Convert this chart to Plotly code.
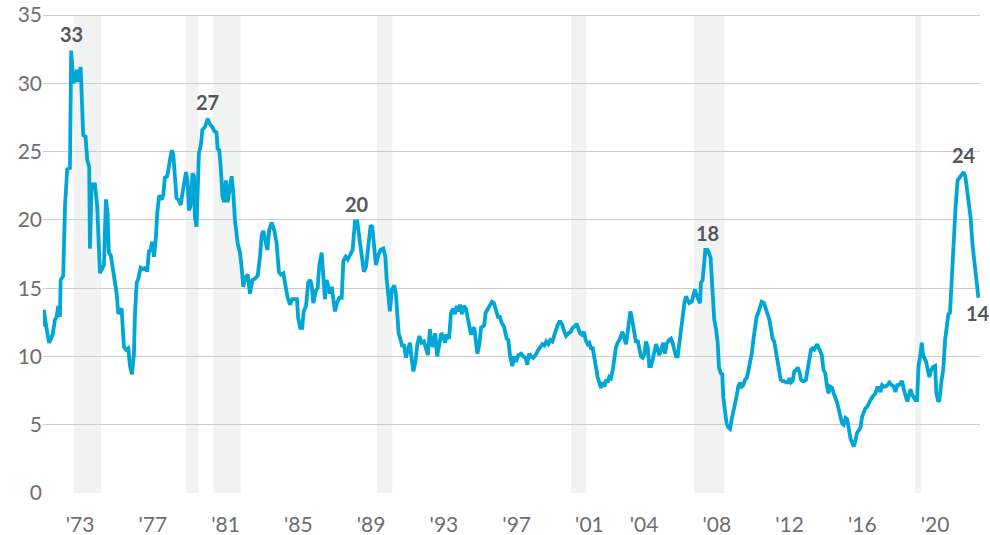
import plotly.graph_objects as go

# ---- data ----
years = [
    1972.11, 1972.18, 1972.33, 1972.47, 1972.66, 1972.79, 1972.88, 1972.97, 1973.06, 1973.10,
    1973.24, 1973.34, 1973.46, 1973.61, 1973.68, 1973.79, 1973.92, 1973.98, 1974.07, 1974.20,
    1974.34, 1974.47, 1974.56, 1974.67, 1974.71, 1974.80, 1974.98, 1975.11, 1975.26, 1975.39,
    1975.48, 1975.59, 1975.68, 1975.75, 1975.86, 1976.03, 1976.18, 1976.27, 1976.36, 1976.45,
    1976.58, 1976.69, 1976.82, 1976.91, 1977.02, 1977.13, 1977.18, 1977.28, 1977.37, 1977.50,
    1977.64, 1977.79, 1977.86, 1977.95, 1978.05, 1978.12, 1978.23, 1978.34, 1978.41, 1978.52,
    1978.65, 1978.74, 1978.83, 1978.96, 1979.07, 1979.20, 1979.29, 1979.38, 1979.47, 1979.57,
    1979.70, 1979.84, 1979.99, 1980.08, 1980.15, 1980.24, 1980.35, 1980.43, 1980.48, 1980.57,
    1980.70, 1980.81, 1980.89, 1981.03, 1981.18, 1981.31, 1981.44, 1981.55, 1981.67, 1981.73,
    1981.82, 1981.91, 1981.99, 1982.08, 1982.19, 1982.28, 1982.37, 1982.50, 1982.59, 1982.68,
    1982.83, 1982.96, 1983.05, 1983.14, 1983.23, 1983.38, 1983.51, 1983.64, 1983.78, 1983.93,
    1984.06, 1984.15, 1984.24, 1984.33, 1984.46, 1984.57, 1984.70, 1984.85, 1984.97, 1985.10,
    1985.21, 1985.34, 1985.47, 1985.58, 1985.71, 1985.83, 1985.98, 1986.09, 1986.16, 1986.27,
    1986.38, 1986.46, 1986.59, 1986.71, 1986.82, 1986.90, 1986.99, 1987.12, 1987.23, 1987.32,
    1987.45, 1987.54, 1987.63, 1987.72, 1987.81, 1987.90, 1988.00, 1988.09, 1988.18, 1988.31,
    1988.42, 1988.55, 1988.64, 1988.77, 1988.88, 1989.00, 1989.15, 1989.28, 1989.41, 1989.52,
    1989.65, 1989.77, 1989.89, 1990.01, 1990.14, 1990.23, 1990.32, 1990.43, 1990.56, 1990.69,
    1990.84, 1990.95, 1991.02, 1991.11, 1991.20, 1991.31, 1991.44, 1991.53, 1991.61, 1991.68,
    1991.79, 1991.88, 1991.97, 1992.08, 1992.19, 1992.30, 1992.40, 1992.49, 1992.60, 1992.71,
    1992.82, 1992.94, 1993.07, 1993.18, 1993.29, 1993.40, 1993.49, 1993.58, 1993.69, 1993.80,
    1993.91, 1994.02, 1994.13, 1994.23, 1994.32, 1994.45, 1994.56, 1994.68, 1994.78, 1994.87,
    1994.98, 1995.05, 1995.16, 1995.27, 1995.38, 1995.46, 1995.57, 1995.66, 1995.75, 1995.84,
    1995.93, 1996.01, 1996.12, 1996.21, 1996.30, 1996.39, 1996.46, 1996.57, 1996.70, 1996.81,
    1996.92, 1997.03, 1997.14, 1997.25, 1997.36, 1997.47, 1997.62, 1997.71, 1997.80, 1997.93,
    1998.04, 1998.13, 1998.26, 1998.41, 1998.53, 1998.66, 1998.75, 1998.85, 1998.96, 1999.08,
    1999.21, 1999.32, 1999.45, 1999.58, 1999.69, 1999.80, 1999.91, 2000.02, 2000.13, 2000.24,
    2000.33, 2000.42, 2000.55, 2000.68, 2000.79, 2000.88, 2001.01, 2001.14, 2001.25, 2001.37,
    2001.47, 2001.56, 2001.65, 2001.74, 2001.87, 2001.96, 2002.07, 2002.16, 2002.25, 2002.35,
    2002.44, 2002.53, 2002.62, 2002.71, 2002.80, 2002.90, 2002.99, 2003.08, 2003.17, 2003.26,
    2003.35, 2003.45, 2003.54, 2003.63, 2003.72, 2003.85, 2003.98, 2004.09, 2004.18, 2004.27,
    2004.34, 2004.42, 2004.49, 2004.56, 2004.64, 2004.73, 2004.82, 2004.91, 2005.00, 2005.10,
    2005.19, 2005.28, 2005.37, 2005.46, 2005.55, 2005.65, 2005.74, 2005.83, 2005.92, 2006.01,
    2006.23, 2006.32, 2006.41, 2006.54, 2006.65, 2006.74, 2006.83, 2006.93, 2007.02, 2007.11,
    2007.20, 2007.29, 2007.39, 2007.48, 2007.57, 2007.66, 2007.79, 2007.88, 2007.97, 2008.06,
    2008.16, 2008.25, 2008.30, 2008.39, 2008.47, 2008.54, 2008.65, 2008.74, 2008.83, 2008.89,
    2008.94, 2009.03, 2009.13, 2009.22, 2009.29, 2009.38, 2009.47, 2009.53, 2009.62, 2009.71,
    2009.80, 2009.90, 2009.99, 2010.08, 2010.17, 2010.26, 2010.35, 2010.45, 2010.54, 2010.63,
    2010.72, 2010.81, 2010.90, 2011.00, 2011.09, 2011.18, 2011.27, 2011.36, 2011.45, 2011.55,
    2011.64, 2011.77, 2011.88, 2011.97, 2012.06, 2012.15, 2012.24, 2012.33, 2012.43, 2012.52,
    2012.61, 2012.68, 2012.79, 2012.88, 2012.98, 2013.07, 2013.16, 2013.25, 2013.34, 2013.43,
    2013.53, 2013.62, 2013.71, 2013.80, 2013.89, 2013.98, 2014.07, 2014.17, 2014.26, 2014.35,
    2014.44, 2014.53, 2014.69, 2014.82, 2014.94, 2015.04, 2015.13, 2015.22, 2015.31, 2015.40,
    2015.51, 2015.60, 2015.70, 2015.79, 2015.88, 2015.97, 2016.06, 2016.15, 2016.25, 2016.34,
    2016.43, 2016.52, 2016.61, 2016.70, 2016.79, 2016.88, 2016.98, 2017.07, 2017.16, 2017.25,
    2017.34, 2017.43, 2017.53, 2017.62, 2017.71, 2017.80, 2017.89, 2017.99, 2018.08, 2018.17,
    2018.26, 2018.35, 2018.45, 2018.54, 2018.66, 2018.79, 2018.90, 2018.99, 2019.09, 2019.18,
    2019.27, 2019.36, 2019.45, 2019.54, 2019.64, 2019.73, 2019.82, 2019.91, 2020.00, 2020.09,
    2020.18, 2020.26, 2020.37, 2020.44, 2020.51, 2020.59, 2020.68, 2020.77, 2020.86, 2020.95,
    2021.04, 2021.17, 2021.24, 2021.35, 2021.41, 2021.53, 2021.62, 2021.72, 2021.81, 2021.90,
    2021.99, 2022.08, 2022.14, 2022.21, 2022.30, 2022.41, 2022.54, 2022.63, 2022.74, 2022.83,
    2022.93, 2023.04, 2023.13, 2023.22, 2023.31, 2023.40, 2023.49, 2023.55,
]
values = [
    12.2, 13.4, 12.0, 11.0, 11.6, 12.7, 12.9, 13.7, 12.9, 15.6,
    15.9, 21.0, 23.7, 23.8, 32.4, 30.1, 30.2, 31.0, 30.1, 31.2,
    26.2, 26.1, 24.4, 23.9, 17.9, 22.6, 22.6, 21.0, 16.1, 16.5,
    16.7, 21.5, 20.5, 17.6, 17.4, 15.9, 14.6, 13.1, 13.4, 13.5,
    10.7, 10.5, 10.6, 9.3, 8.7, 10.2, 12.9, 15.4, 15.7, 16.5,
    16.4, 16.5, 16.2, 17.7, 17.8, 18.4, 17.3, 18.8, 20.5, 21.8,
    21.5, 21.8, 23.1, 23.2, 24.2, 25.1, 24.8, 23.4, 21.6, 21.5,
    21.1, 22.3, 23.5, 22.8, 20.7, 21.0, 23.4, 23.2, 20.2, 19.5,
    24.9, 25.5, 26.6, 26.8, 27.4, 27.0, 26.8, 26.5, 26.4, 25.2,
    25.1, 23.7, 21.8, 21.3, 22.9, 21.3, 22.2, 23.2, 22.0, 20.0,
    18.3, 17.6, 16.5, 15.1, 15.7, 16.0, 14.6, 15.6, 15.7, 15.9,
    17.3, 18.9, 19.2, 18.5, 17.8, 19.3, 19.8, 19.2, 18.3, 16.2,
    16.0, 16.1, 15.1, 14.3, 13.8, 14.2, 14.2, 14.2, 12.8, 12.1,
    12.1, 13.3, 13.7, 15.4, 15.6, 15.2, 13.9, 14.8, 15.0, 16.7,
    17.6, 15.9, 14.2, 15.6, 15.2, 14.6, 15.1, 14.4, 13.3, 14.0,
    14.3, 14.3, 17.0, 17.3, 17.1, 17.4, 17.8, 19.9, 19.9, 18.7,
    17.3, 16.2, 16.6, 18.1, 19.6, 19.5, 18.1, 16.7, 17.4, 17.8,
    17.9, 17.3, 15.7, 14.5, 13.3, 14.9, 15.2, 14.6, 12.7, 11.7,
    11.2, 10.7, 10.9, 9.9, 10.5, 11.0, 9.8, 8.9, 9.6, 10.9,
    11.5, 11.0, 11.1, 10.7, 10.1, 12.0, 11.0, 10.7, 11.7, 10.0,
    10.9, 11.7, 11.5, 11.0, 11.6, 11.3, 13.2, 13.5, 13.1, 13.7,
    13.3, 13.8, 13.1, 13.7, 13.5, 12.8, 12.2, 11.6, 12.0, 12.1,
    11.2, 10.2, 10.9, 12.1, 12.2, 12.3, 13.2, 13.5, 13.8, 14.0,
    13.9, 13.5, 12.9, 12.9, 12.4, 12.2, 11.3, 11.2, 10.1, 9.3,
    10.0, 9.6, 10.1, 10.2, 10.0, 9.9, 9.4, 10.2, 10.0, 9.9,
    10.1, 10.4, 10.6, 10.9, 10.8, 11.1, 10.9, 11.2, 11.1, 11.6,
    11.8, 12.3, 12.6, 12.3, 11.8, 11.5, 11.7, 11.8, 12.1, 12.2,
    12.4, 12.1, 11.7, 11.6, 11.8, 11.2, 10.9, 11.0, 10.6, 10.6,
    9.8, 9.0, 8.5, 8.1, 7.7, 8.1, 7.8, 8.3, 8.1, 8.5,
    8.4, 9.0, 10.0, 10.7, 11.0, 11.3, 11.8, 11.2, 10.9, 11.8,
    12.6, 13.3, 12.9, 12.3, 11.5, 11.0, 11.2, 10.6, 10.0, 9.9,
    10.2, 11.1, 10.7, 9.3, 9.3, 9.8, 10.5, 10.9, 10.5, 10.1,
    11.0, 10.2, 10.9, 11.2, 11.3, 11.0, 10.5, 10.0, 10.0, 11.0,
    11.8, 12.7, 13.9, 14.4, 14.2, 13.9, 14.0, 14.5, 14.9, 14.5,
    14.2, 13.9, 15.4, 15.6, 16.7, 17.8, 17.8, 17.6, 17.2, 15.6,
    13.7, 12.7, 12.0, 11.0, 9.2, 8.8, 8.7, 7.0, 6.0, 5.1,
    4.8, 4.7, 5.4, 5.9, 6.3, 7.1, 7.8, 8.1, 7.8, 7.9,
    8.3, 8.4, 8.9, 9.5, 10.2, 11.2, 12.2, 12.9, 13.2, 13.7,
    14.0, 13.9, 13.4, 13.2, 12.7, 12.0, 11.3, 11.1, 10.2, 9.4,
    8.8, 8.3, 8.2, 8.2, 8.1, 8.1, 8.4, 8.1, 8.2, 8.9,
    9.0, 9.2, 8.9, 8.3, 8.2, 8.2, 8.3, 9.0, 9.6, 10.5,
    10.6, 10.5, 10.9, 10.4, 10.1, 9.0, 8.8, 7.9, 7.3, 7.8,
    7.7, 7.3, 7.0, 6.6, 6.1, 5.4, 5.1, 5.0, 5.5, 5.4,
    4.6, 4.0, 3.7, 3.4, 3.8, 4.4, 4.6, 4.8, 5.6, 5.9,
    6.2, 6.3, 6.5, 6.8, 7.0, 7.2, 7.3, 7.7, 7.7, 7.4,
    7.9, 7.8, 7.8, 7.9, 8.1, 7.9, 7.8, 7.4, 7.9, 7.9,
    8.1, 8.2, 7.6, 7.1, 6.7, 7.1, 7.6, 7.2, 7.0, 6.8,
    6.8, 9.3, 10.2, 11.0, 10.1, 9.8, 9.6, 9.0, 8.5, 9.0,
    9.2, 9.3, 7.3, 6.7, 6.8, 8.3, 9.0, 11.2, 12.2, 13.1,
    13.2, 15.6, 17.8, 19.3, 21.0, 22.9, 23.2, 23.3, 23.5, 23.2,
    22.2, 21.2, 20.1, 18.3, 17.1, 16.1, 15.1, 14.3,
]

recession_start = [1973.83, 1980.00, 1981.50, 1990.50, 2001.17, 2007.92, 2020.08]
recession_end = [1975.33, 1980.67, 1983.00, 1991.33, 2002.00, 2009.58, 2020.42]

tick_years = [1973, 1977, 1981, 1985, 1989, 1993, 1997, 2001, 2004, 2008, 2012, 2016, 2020]
tick_labels = ["'73", "'77", "'81", "'85", "'89", "'93", "'97", "'01", "'04", "'08", "'12", "'16", "'20"]
y_ticks = [0, 5, 10, 15, 20, 25, 30, 35]

label_years = [1973.68, 1981.18, 1989.41, 2008.65, 2022.74, 2023.55]
label_texts = ["33", "27", "20", "18", "24", "14"]
label_below = [False, False, False, False, False, True]

# ---- styling ----
LINE_COLOR = "#00a6d6"
GRID_COLOR = "#cdcdcd"
TICK_COLOR = "#6d6e71"
LABEL_COLOR = "#55585d"
BAND_COLOR = "#f1f3f3"
FONT = "Lato, 'Open Sans', sans-serif"

fig = go.Figure()
fig.add_trace(go.Scatter(
    x=years, y=values, mode="lines",
    line=dict(color=LINE_COLOR, width=3.8),
    hoverinfo="skip", showlegend=False,
))

for s, e in zip(recession_start, recession_end):
    fig.add_shape(type="rect", xref="x", yref="y", x0=s, x1=e, y0=0, y1=35,
                  fillcolor=BAND_COLOR, line=dict(width=0), layer="below")

value_at = dict(zip(years, values))
for yr, txt, below in zip(label_years, label_texts, label_below):
    fig.add_annotation(
        x=yr, y=value_at[yr], text=f"<b>{txt}</b>", showarrow=False,
        xanchor="center", yanchor="middle", yshift=-15 if below else 17,
        font=dict(family=FONT, size=20, color=LABEL_COLOR),
    )

fig.update_layout(
    width=990, height=535,
    margin=dict(l=43, r=10, t=11, b=42, autoexpand=False),
    paper_bgcolor="white", plot_bgcolor="white",
    font=dict(family=FONT, size=21, color=TICK_COLOR),
    showlegend=False,
    xaxis=dict(
        range=[1972.13, 2023.64],
        tickmode="array",
        tickvals=[y + 1.17 for y in tick_years],
        ticktext=tick_labels,
        showgrid=False, zeroline=False, showline=False,
        ticks="", ticklabelstandoff=17, automargin=False,
        ticklabeloverflow="allow",
        tickfont=dict(family=FONT, size=21, color=TICK_COLOR),
        fixedrange=True,
    ),
    yaxis=dict(
        range=[0, 35.3],
        tickmode="array", tickvals=y_ticks,
        showgrid=True, gridcolor=GRID_COLOR, gridwidth=1,
        zeroline=False, showline=False,
        ticks="", ticklabelstandoff=0, automargin=False,
        ticklabeloverflow="allow",
        tickfont=dict(family=FONT, size=21, color=TICK_COLOR),
        fixedrange=True,
    ),
)

fig.write_html(
    "out.html",
    config={"displayModeBar": False},
    post_script="document.body.style.margin='0';",
)
